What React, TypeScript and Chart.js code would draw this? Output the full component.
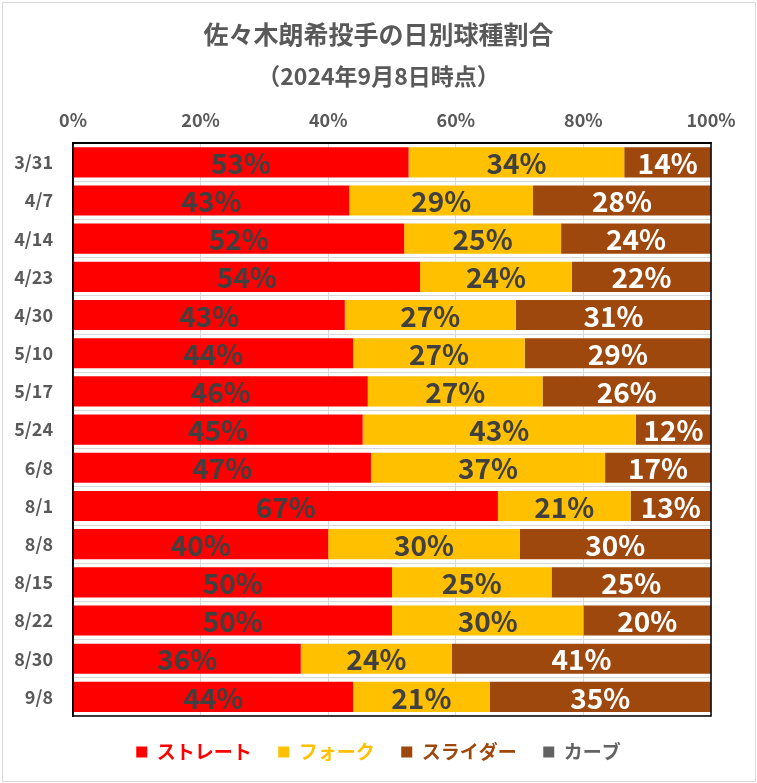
import React, { useEffect, useRef } from "react";
import { Chart, registerables } from "chart.js";

Chart.register(...registerables);

const FONT = "'Noto Sans CJK JP', 'Noto Sans', sans-serif";

const titleText = "佐々木朗希投手の日別球種割合";
const subtitleText = "（2024年9月8日時点）";

const categories = [
  "3/31", "4/7", "4/14", "4/23", "4/30", "5/10", "5/17", "5/24",
  "6/8", "8/1", "8/8", "8/15", "8/22", "8/30", "9/8",
];

const seriesNames = ["ストレート", "フォーク", "スライダー", "カーブ"];
const seriesColors = ["#FF0000", "#FFC000", "#9E480E", "#636363"];
const labelColors = ["#404040", "#404040", "#FFFFFF", "#FFFFFF"];

const straight = [52.6, 43.3, 51.9, 54.4, 42.6, 43.9, 46.2, 45.4, 46.7, 66.6, 40.0, 50.0, 50.0, 35.7, 43.9];
const fork = [33.8, 28.8, 24.6, 23.8, 26.8, 26.9, 27.4, 42.8, 36.7, 20.8, 30.0, 25.0, 30.0, 23.7, 21.4];
const slider = [13.6, 27.9, 23.5, 21.8, 30.6, 29.2, 26.4, 11.8, 16.6, 12.6, 30.0, 25.0, 20.0, 40.6, 34.7];
const curve = [0, 0, 0, 0, 0, 0, 0, 0, 0, 0, 0, 0, 0, 0, 0];

const xTicks = [0, 20, 40, 60, 80, 100];

const outerBorder = {
  id: "outerBorder",
  beforeDraw(chart: any) {
    const { ctx, width, height } = chart;
    ctx.save();
    ctx.fillStyle = "#ffffff";
    ctx.fillRect(0, 0, width, height);
    ctx.strokeStyle = "#d9d9d9";
    ctx.lineWidth = 1;
    ctx.strokeRect(2.5, 2.5, width - 4, height - 4);
    ctx.restore();
  },
};

const plotBorder = {
  id: "plotBorder",
  afterDatasetsDraw(chart: any) {
    const { ctx, chartArea } = chart;
    ctx.save();
    ctx.strokeStyle = "#000000";
    ctx.lineWidth = 1.5;
    ctx.strokeRect(chartArea.left, chartArea.top, chartArea.right - chartArea.left, chartArea.bottom - chartArea.top);
    ctx.restore();
  },
};

const barLabels = {
  id: "barLabels",
  afterDatasetsDraw(chart: any) {
    const { ctx } = chart;
    ctx.save();
    ctx.font = `bold 28px ${FONT}`;
    ctx.textAlign = "center";
    ctx.textBaseline = "middle";
    chart.data.datasets.forEach((ds: any, di: number) => {
      const meta = chart.getDatasetMeta(di);
      meta.data.forEach((el: any, i: number) => {
        const v = ds.data[i];
        if (!v) return;
        const p = el.getProps(["x", "y", "base"], true);
        ctx.fillStyle = labelColors[di];
        ctx.fillText(`${Math.round(v)}%`, (p.x + p.base) / 2, p.y + 1);
      });
    });
    ctx.restore();
  },
};

export default function App() {
  const ref = useRef<HTMLCanvasElement | null>(null);

  useEffect(() => {
    document.body.style.margin = "0";
    if (!ref.current) return;
    const values = [straight, fork, slider, curve];
    const chart = new Chart(ref.current, {
      type: "bar",
      data: {
        labels: categories,
        datasets: seriesNames.map((name, i) => ({
          label: name,
          data: values[i],
          backgroundColor: seriesColors[i],
          borderWidth: 0,
          categoryPercentage: 1,
          barPercentage: 0.79,
        })),
      },
      options: {
        indexAxis: "y",
        responsive: false,
        animation: false,
        devicePixelRatio: 1,
        layout: { padding: { top: 0, left: 0, right: 0, bottom: 11.5 } },
        scales: {
          x: {
            stacked: true,
            position: "top",
            min: 0,
            max: 100,
            afterBuildTicks: (scale: any) => {
              scale.ticks = xTicks.map((v) => ({ value: v }));
            },
            ticks: {
              padding: 12,
              color: "#595959",
              font: { family: FONT, size: 18, weight: "bold" },
              callback: (v: any) => `${v}%`,
            },
            grid: { color: "#d9d9d9", lineWidth: 1, drawTicks: false },
            border: { display: true, color: "#000000", width: 1.5 },
          },
          y: {
            stacked: true,
            afterFit: (scale: any) => {
              scale.width = 73;
            },
            ticks: {
              padding: 20,
              color: "#595959",
              font: { family: FONT, size: 18, weight: "bold" },
            },
            grid: { color: "#d9d9d9", lineWidth: 1, drawTicks: false, offset: true },
            border: { display: true, color: "#000000", width: 1.5 },
          },
          ySpacer: {
            type: "category",
            position: "right",
            display: true,
            afterFit: (scale: any) => {
              scale.width = 46;
            },
            ticks: { display: false },
            grid: { display: false, drawOnChartArea: false, drawTicks: false },
            border: { display: false },
          },
        },
        plugins: {
          title: {
            display: true,
            text: titleText,
            color: "#595959",
            font: { family: FONT, size: 25, weight: "bold" },
            padding: { top: 19, bottom: 9 },
          },
          subtitle: {
            display: true,
            text: subtitleText,
            color: "#595959",
            font: { family: FONT, size: 23, weight: "bold" },
            padding: { top: 4, bottom: 8 },
          },
          legend: {
            display: true,
            position: "bottom",
            labels: {
              boxWidth: 11,
              boxHeight: 11,
              padding: 26.5,
              font: { family: FONT, size: 19, weight: "bold" },
              generateLabels: (c: any) =>
                c.data.datasets.map((ds: any, i: number) => ({
                  text: ds.label,
                  fillStyle: ds.backgroundColor,
                  strokeStyle: ds.backgroundColor,
                  lineWidth: 0,
                  fontColor: ds.backgroundColor,
                  hidden: false,
                  datasetIndex: i,
                })),
            },
          },
          tooltip: { enabled: false },
        },
      },
      plugins: [outerBorder, plotBorder, barLabels],
    } as any);
    return () => chart.destroy();
  }, []);

  return (
    <div style={{ width: 757, height: 783 }}>
      <canvas ref={ref} width={757} height={783} style={{ display: "block" }} />
    </div>
  );
}
